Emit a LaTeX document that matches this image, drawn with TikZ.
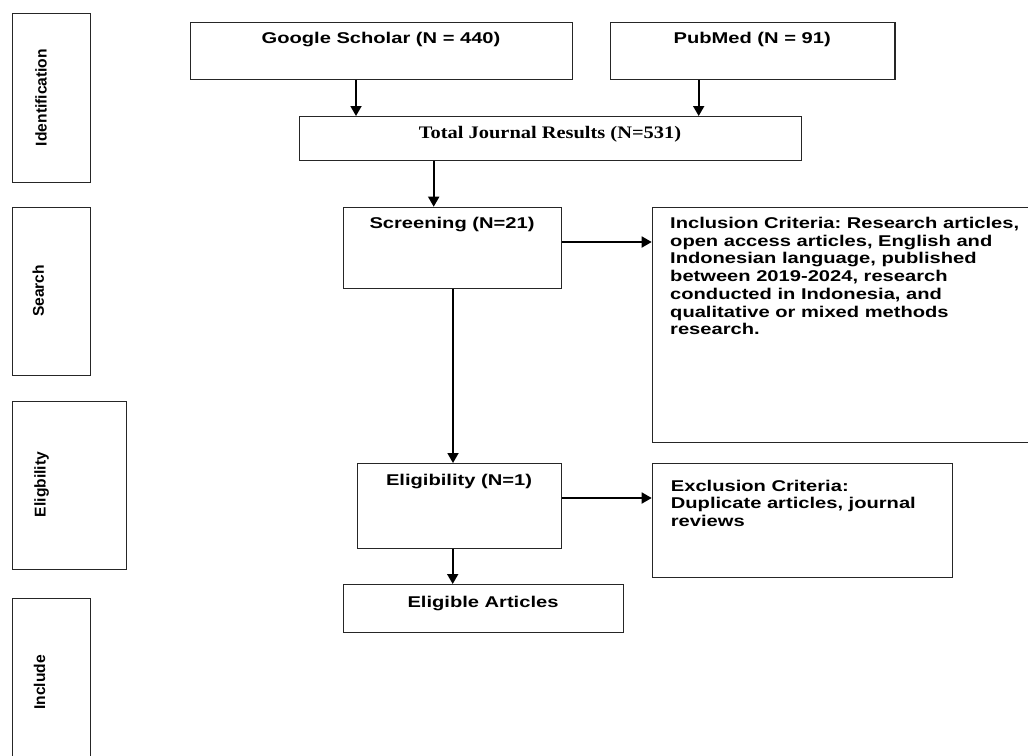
\documentclass[tikz,border=0pt]{standalone}
\usepackage{fontspec}
\setmainfont{Liberation Sans}
\newfontfamily\wsans{Liberation Sans}[FakeStretch=1.29]
\newfontfamily\nsans{Liberation Sans}
\newfontfamily\wserif{Liberation Serif}[FakeStretch=1.16]
\usetikzlibrary{arrows.meta}
\frenchspacing
\tikzset{
  box/.style={draw=black!85, line width=1.3pt, inner sep=0pt, anchor=north west},
  lbl/.style={inner sep=0pt, anchor=base, font=\wsans\bfseries\fontsize{15.6}{17.7}\selectfont},
  serlbl/.style={inner sep=0pt, anchor=base, font=\wserif\bfseries\fontsize{17.6}{20}\selectfont},
  side/.style={inner sep=0pt, anchor=base, rotate=90, font=\nsans\bfseries\fontsize{15.6}{17.7}\selectfont},
  para/.style={inner sep=0pt, anchor=north west, align=left, font=\wsans\bfseries\fontsize{15.6}{17.7}\selectfont\frenchspacing},
  arr/.style={line width=1.8pt, -{Triangle[length=10pt,width=11pt]}}
}
\begin{document}
\begin{tikzpicture}[x=1pt,y=-1pt]
\clip (0,0) rectangle (1028,755);
% side boxes
\node[box, minimum width=78, minimum height=169] (idb) at (12,13) {};
\node[side] (idt) at (46.7,97.5) {Identification};
\node[box, minimum width=78, minimum height=168.3] (seb) at (12,206.7) {};
\node[side] (set) at (43.8,290.8) {Search};
\node[box, minimum width=114, minimum height=168.3] (elb) at (12,400.7) {};
\node[side] (elt) at (45.5,484.5) {Eligbility};
\node[box, minimum width=78, minimum height=169] (inb) at (12,598) {};
\node[side] (int) at (45,682.5) {Include};
% flow boxes
\node[box, minimum width=382, minimum height=56.5] (gs) at (190,22) {};
\node[lbl] (gst) at (381,43.5) {Google Scholar (N = 440)};
\node[box, minimum width=284.3, minimum height=56.5] (pm) at (610,22) {};
\node[lbl] (pmt) at (752.2,43.5) {PubMed (N = 91)};
\node[box, minimum width=502, minimum height=44] (tot) at (299,116) {};
\node[serlbl] (tott) at (550,138.4) {Total Journal Results (N=531)};
\node[box, minimum width=218, minimum height=81] (scr) at (343,206.7) {};
\node[lbl] (scrt) at (452,228.5) {Screening (N=21)};
\node[box, minimum width=376, minimum height=235.3] (inc) at (651.7,206.7) {};
\node[para] (inct) at (670,217) {Inclusion Criteria: Research articles,\\open access articles, English and\\Indonesian language, published\\between 2019-2024, research\\conducted in Indonesia, and\\qualitative or mixed methods\\research.};
\node[box, minimum width=204.3, minimum height=84.7] (eli) at (356.7,463) {};
\node[lbl] (elit) at (459,485.3) {Eligibility (N=1)};
\node[box, minimum width=300.3, minimum height=113.7] (exc) at (651.7,463) {};
\node[para] (exct) at (670.7,479.6) {Exclusion Criteria:\\Duplicate articles, journal\\reviews};
\node[box, minimum width=279.7, minimum height=48] (art) at (343,584) {};
\node[lbl] (artt) at (483,607) {Eligible Articles};
% connectors
\draw[arr] (356,0 |- gs.south) -- (356,0 |- tot.north);
\draw[arr] (698.7,0 |- pm.south) -- (698.7,0 |- tot.north);
\draw[arr] (433.7,0 |- tot.south) -- (433.7,0 |- scr.north);
\draw[arr] (scr.east |- 0,242) -- (inc.west |- 0,242);
\draw[arr] (453,0 |- scr.south) -- (453,0 |- eli.north);
\draw[arr] (eli.east |- 0,498) -- (exc.west |- 0,498);
\draw[arr] (452.7,0 |- eli.south) -- (452.7,0 |- art.north);
\end{tikzpicture}
\end{document}
